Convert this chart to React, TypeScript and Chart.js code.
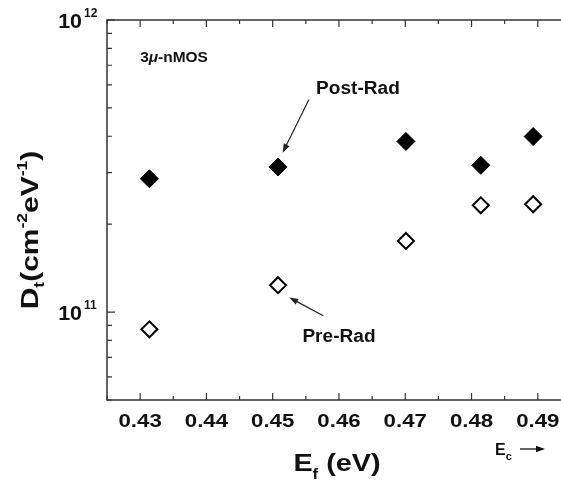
import React, { useEffect, useRef } from "react";
import { Chart, registerables } from "chart.js";

Chart.register(...registerables);

// ---- data ----
const efValues = [0.4314, 0.4508, 0.4701, 0.4814, 0.4893];
const postRad = [2.86e11, 3.14e11, 3.84e11, 3.18e11, 3.99e11];
const preRad = [8.73e10, 1.236e11, 1.752e11, 2.32e11, 2.34e11];
const xTickValues = [0.43, 0.44, 0.45, 0.46, 0.47, 0.48, 0.49];
const xTickLabels = ["0.43", "0.44", "0.45", "0.46", "0.47", "0.48", "0.49"];
const yDecades = [11, 12];
const seriesNames = ["Post-Rad", "Pre-Rad"];
const sampleLabel = ["3", "\u03bc", "-nMOS"];

const FONT = "'Liberation Sans', Arial, sans-serif";

type Seg = { t: string; size: number; dy: number; italic?: boolean };

function segWidth(ctx: CanvasRenderingContext2D, segs: Seg[]) {
  let w = 0;
  for (const s of segs) {
    ctx.font = `${s.italic ? "italic " : ""}bold ${s.size}px ${FONT}`;
    w += ctx.measureText(s.t).width;
  }
  return w;
}

function drawSegs(
  ctx: CanvasRenderingContext2D,
  segs: Seg[],
  x: number,
  y: number,
  align: "left" | "center" | "right",
  sx = 1
) {
  const w = segWidth(ctx, segs) * sx;
  const x0 = align === "left" ? x : align === "center" ? x - w / 2 : x - w;
  ctx.save();
  ctx.translate(x0, y);
  ctx.scale(sx, 1);
  ctx.textAlign = "left";
  ctx.textBaseline = "alphabetic";
  let cx = 0;
  for (const s of segs) {
    ctx.font = `${s.italic ? "italic " : ""}bold ${s.size}px ${FONT}`;
    ctx.fillText(s.t, cx, s.dy);
    cx += ctx.measureText(s.t).width;
  }
  ctx.restore();
}

function arrow(ctx: CanvasRenderingContext2D, x1: number, y1: number, x2: number, y2: number) {
  const ang = Math.atan2(y2 - y1, x2 - x1);
  const hl = 9, hw = 3.2;
  ctx.beginPath();
  ctx.moveTo(x1, y1);
  ctx.lineTo(x2 - Math.cos(ang) * hl * 0.8, y2 - Math.sin(ang) * hl * 0.8);
  ctx.stroke();
  ctx.beginPath();
  ctx.moveTo(x2, y2);
  ctx.lineTo(x2 - Math.cos(ang) * hl - Math.sin(ang) * hw, y2 - Math.sin(ang) * hl + Math.cos(ang) * hw);
  ctx.lineTo(x2 - Math.cos(ang) * hl + Math.sin(ang) * hw, y2 - Math.sin(ang) * hl - Math.cos(ang) * hw);
  ctx.closePath();
  ctx.fill();
}

const decorPlugin = {
  id: "decor",
  afterDraw(chart: any) {
    const ctx: CanvasRenderingContext2D = chart.ctx;
    const { left, right, top, bottom } = chart.chartArea;
    const xs = chart.scales.x;
    const ys = chart.scales.y;
    ctx.save();
    ctx.strokeStyle = "#333";
    ctx.fillStyle = "#000";
    ctx.lineWidth = 1.5;
    // axes frame (left, bottom, top)
    ctx.beginPath();
    ctx.moveTo(right, top);
    ctx.lineTo(left, top);
    ctx.lineTo(left, bottom);
    ctx.lineTo(right, bottom);
    ctx.stroke();
    // x ticks (major + minor), bottom and top, inward
    ctx.lineWidth = 1.2;
    ctx.beginPath();
    for (let i = 0; i < xTickValues.length; i++) {
      const v = xTickValues[i];
      const px = xs.getPixelForValue(v);
      ctx.moveTo(px, bottom); ctx.lineTo(px, bottom - 7);
      ctx.moveTo(px, top); ctx.lineTo(px, top + 7);
      for (const m of [v - 0.005, v + 0.005]) {
        if (m < xs.min || m > xs.max) continue;
        const pm = xs.getPixelForValue(m);
        ctx.moveTo(pm, bottom); ctx.lineTo(pm, bottom - 4);
        ctx.moveTo(pm, top); ctx.lineTo(pm, top + 4);
      }
    }
    // y ticks, log
    for (let d = 10; d <= 12; d++) {
      for (let k = 1; k <= 9; k++) {
        const v = k * Math.pow(10, d);
        if (v < ys.min - 1 || v > ys.max + 1) continue;
        const py = ys.getPixelForValue(v);
        ctx.moveTo(left, py);
        ctx.lineTo(left + (k === 1 ? 8 : 5), py);
      }
    }
    ctx.stroke();

    // x tick labels
    ctx.fillStyle = "#111";
    for (let i = 0; i < xTickValues.length; i++) {
      drawSegs(ctx, [{ t: xTickLabels[i], size: 19, dy: 0 }], xs.getPixelForValue(xTickValues[i]), bottom + 27, "center", 1.17);
    }
    // y tick labels 10^n
    for (const e of yDecades) {
      const py = ys.getPixelForValue(Math.pow(10, e));
      drawSegs(ctx, [{ t: "10", size: 21, dy: 0 }], left - 25, py + 8, "right", 1.02);
      drawSegs(ctx, [{ t: String(e), size: 12, dy: 0 }], left - 23, py - 3, "left", 1.0);
    }
    // x title
    drawSegs(ctx, [
      { t: "E", size: 24, dy: 0 },
      { t: "f", size: 14, dy: 8 },
      { t: " (eV)", size: 24, dy: 0 },
    ], 337, bottom + 71, "center", 1.2);
    // E_c arrow
    drawSegs(ctx, [
      { t: "E", size: 16, dy: 0 },
      { t: "c", size: 11, dy: 5 },
    ], 495, bottom + 55, "left");
    ctx.strokeStyle = "#111";
    ctx.lineWidth = 1.3;
    arrow(ctx, 520, bottom + 49, 545, bottom + 49);

    // y title (rotated)
    ctx.save();
    ctx.translate(30, 230);
    ctx.rotate(-Math.PI / 2);
    drawSegs(ctx, [
      { t: "D", size: 24, dy: 0 },
      { t: "t", size: 14, dy: 6 },
      { t: "(cm", size: 24, dy: 0 },
      { t: "-2", size: 14, dy: -11 },
      { t: "eV", size: 24, dy: 0 },
      { t: "-1", size: 14, dy: -11 },
      { t: ")", size: 24, dy: 0 },
    ], 0, 8, "center", 1.25);
    ctx.restore();

    // annotations
    ctx.fillStyle = "#111";
    drawSegs(ctx, [
      { t: sampleLabel[0], size: 15, dy: 0 },
      { t: sampleLabel[1], size: 15, dy: 0, italic: true },
      { t: sampleLabel[2], size: 15, dy: 0 },
    ], xs.getPixelForValue(0.43), ys.getPixelForValue(7.19e11), "left", 1.03);

    drawSegs(ctx, [{ t: seriesNames[0], size: 18, dy: 0 }], xs.getPixelForValue(0.46286), ys.getPixelForValue(5.86e11) + 6, "center", 1.06);
    drawSegs(ctx, [{ t: seriesNames[1], size: 18, dy: 0 }], xs.getPixelForValue(0.46), ys.getPixelForValue(8.3e10) + 6, "center", 1.06);

    ctx.strokeStyle = "#222";
    ctx.fillStyle = "#222";
    ctx.lineWidth = 1.2;
    arrow(ctx, xs.getPixelForValue(0.45547), ys.getPixelForValue(5.34e11), xs.getPixelForValue(0.4515), ys.getPixelForValue(3.51e11));
    arrow(ctx, xs.getPixelForValue(0.45763), ys.getPixelForValue(9.71e10), xs.getPixelForValue(0.4525), ys.getPixelForValue(1.122e11));
    ctx.restore();
  },
};

export default function App() {
  const ref = useRef<HTMLCanvasElement>(null);
  useEffect(() => {
    if (!ref.current) return;
    const chart = new Chart(ref.current, {
      type: "scatter",
      data: {
        datasets: [
          {
            label: seriesNames[0],
            data: efValues.map((x, i) => ({ x, y: postRad[i] })),
            pointStyle: "rectRot",
            pointRadius: 9,
            backgroundColor: "#000",
            borderColor: "#000",
            borderWidth: 1,
          },
          {
            label: seriesNames[1],
            data: efValues.map((x, i) => ({ x, y: preRad[i] })),
            pointStyle: "rectRot",
            pointRadius: 8,
            backgroundColor: "#fff",
            borderColor: "#000",
            borderWidth: 2,
          },
        ],
      },
      options: {
        animation: false,
        responsive: false,
        devicePixelRatio: 1,
        layout: { autoPadding: false, padding: { left: 107, top: 20, right: 0, bottom: 84 } },
        plugins: { legend: { display: false }, tooltip: { enabled: false } },
        scales: {
          x: { type: "linear", display: false, min: 0.425, max: 0.4935 },
          y: { type: "logarithmic", display: false, min: 5e10, max: 1e12 },
        },
      },
      plugins: [decorPlugin],
    });
    return () => chart.destroy();
  }, []);
  return (
    <div style={{ position: "fixed", left: 0, top: 0, width: 561, height: 484, background: "#fff" }}>
      <canvas ref={ref} width={561} height={484} style={{ display: "block" }} />
    </div>
  );
}
